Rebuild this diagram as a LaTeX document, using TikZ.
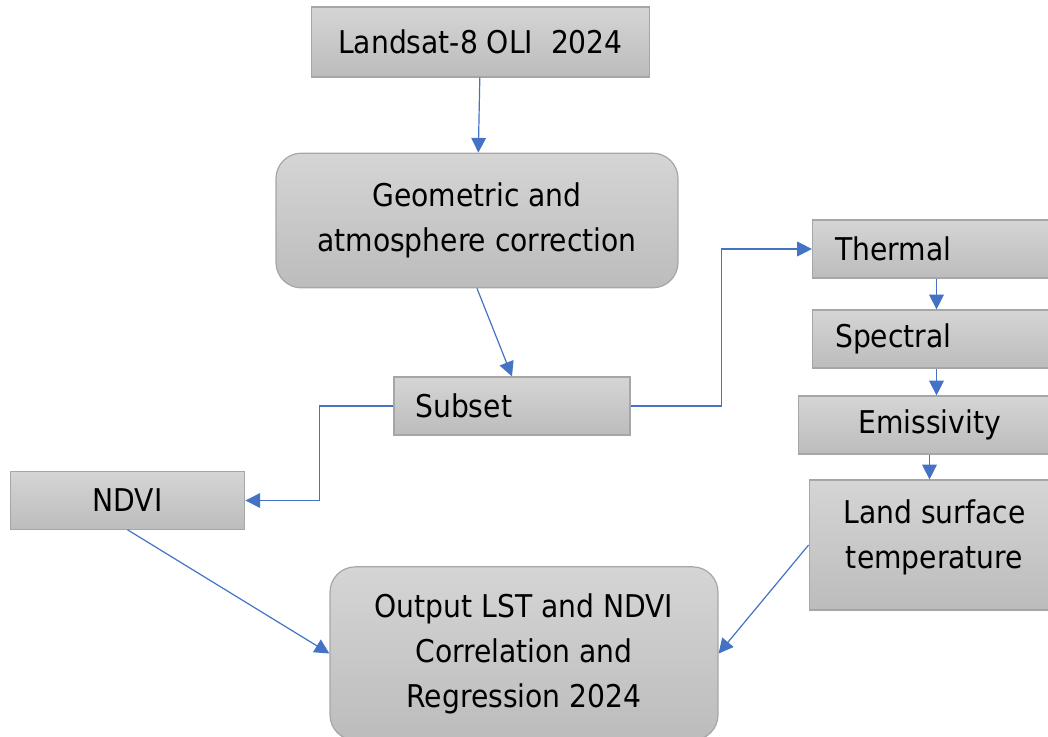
\documentclass[tikz,border=0pt]{standalone}
\usepackage{fontspec}
\setmainfont{DejaVu Sans Condensed}
\usetikzlibrary{arrows.meta}
\definecolor{flowblue}{HTML}{4472C4}
\definecolor{boxline}{HTML}{A6A6A6}
\definecolor{boxtop}{HTML}{D5D5D5}
\definecolor{boxbottom}{HTML}{BCBCBC}
\tikzset{
  stage/.style={rectangle, draw=boxline, line width=0.9pt, top color=boxtop,
    bottom color=boxbottom, inner sep=0pt, align=center,
    font=\fontsize{23.5}{33.75}\selectfont},
  roundstage/.style={stage, rounded corners=19pt},
  flow/.style={draw=flowblue, line width=0.9pt,
    -{Triangle[length=11pt,width=11pt]}, color=flowblue},
}
\begin{document}
\begin{tikzpicture}[x=0.75pt,y=-0.75pt]
  \useasboundingbox (0,0) rectangle (1048,736);
  % main column
  \node[stage, minimum width=254pt, minimum height=52.5pt] (landsat) at (480.5,42) {Landsat-8 OLI\ \ 2024};
  \node[roundstage, minimum width=301.5pt, minimum height=101pt] (geocorr) at (477,220.5) {Geometric and\\atmosphere correction};
  \node[stage, minimum height=43.5pt, text width=145pt, inner xsep=16pt, align=left] (subset) at (512,406) {Subset};
  \node[stage, minimum width=176pt, minimum height=43pt] (ndvi) at (127.5,500.5) {NDVI};
  \node[roundstage, minimum width=291pt, minimum height=130pt] (output) at (524,653.5) {Output LST and NDVI\\Correlation and\\Regression 2024};
  % thermal column
  \node[stage, minimum height=43.5pt, text width=152pt, inner xsep=17pt, align=left] (thermal) at (936.5,249) {Thermal};
  \node[stage, minimum height=43.5pt, text width=152pt, inner xsep=17pt, align=left] (spectral) at (936.5,339) {Spectral};
  \node[stage, minimum width=196pt, minimum height=43.5pt] (emis) at (929.5,425) {Emissivity};
  \node[stage, minimum width=188pt, minimum height=97.5pt, text depth=16pt] (lst) at (934.5,545) {Land surface\\temperature};

  \draw[flow] (landsat) -- (geocorr);
  \draw[flow] (geocorr.south) -- (subset.north);
  \draw[flow] (subset.east) -- ++(91,0) |- (thermal.west);
  \draw[flow] (subset.west) -- ++(-74,0) |- (ndvi.east);
  \foreach \a/\b in {thermal/spectral,spectral/emis,emis/lst}
    \draw[flow] (\a.south) -- (\a.south |- \b.north);
  \draw[flow] (ndvi.south) -- (output.west);
  \draw[flow] (lst.west) -- (output.east);
\end{tikzpicture}
\end{document}
